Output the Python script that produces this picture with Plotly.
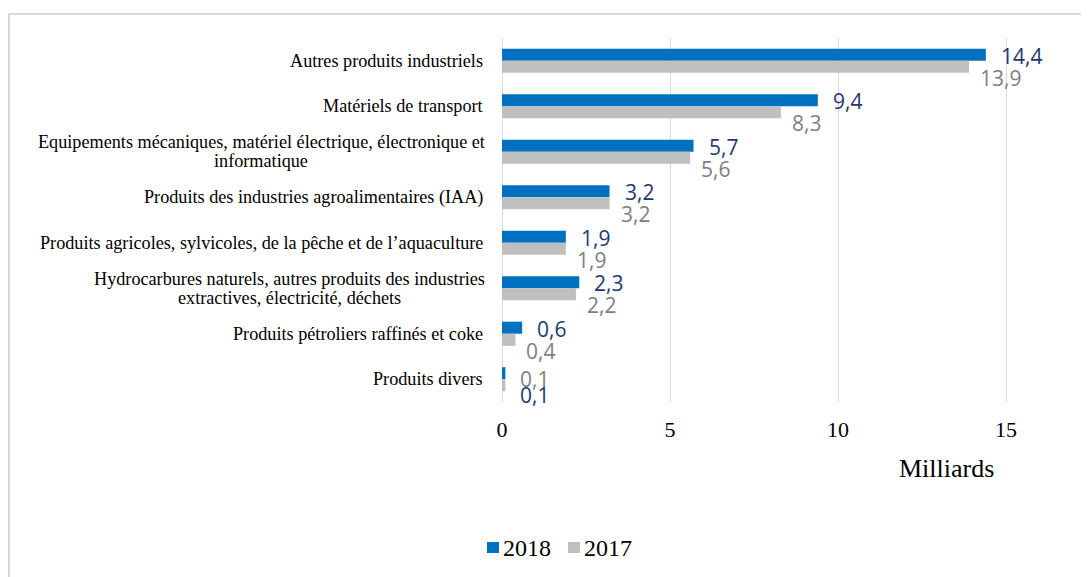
import plotly.graph_objects as go

categories = [
    "Autres produits industriels",
    "Matériels de transport",
    "Equipements mécaniques, matériel électrique, électronique et<br>informatique",
    "Produits des industries agroalimentaires (IAA)",
    "Produits agricoles, sylvicoles, de la pêche et de l’aquaculture",
    "Hydrocarbures naturels, autres produits des industries<br>extractives, électricité, déchets",
    "Produits pétroliers raffinés et coke",
    "Produits divers",
]
values_2018 = [14.4, 9.4, 5.7, 3.2, 1.9, 2.3, 0.6, 0.1]
values_2017 = [13.9, 8.3, 5.6, 3.2, 1.9, 2.2, 0.4, 0.1]
series_names = ["2018", "2017"]
x_ticks = [0, 5, 10, 15]

BLUE = "#0070C0"
GRAY = "#BFBFBF"
BLUE_TXT = "#1F3872"
GRAY_TXT = "#7F7F7F"
SERIF = "Liberation Serif, Times New Roman, serif"
SANS = "Open Sans, Liberation Sans, sans-serif"

# the page body adds an 8px offset; figure coordinates = reference pixels - 8
OFF = 8
W, H = 1081, 569
ML, MR, MT, MB = 502 - OFF, 0, 38 - OFF, 569 - (402 - OFF)
pw = W - ML - MR
ph = H - MT - MB
PX_PER_UNIT = 504 / 15


def px_x(px):
    return (px - OFF - ML) / pw


def px_y(py):
    return (H - MB - (py - OFF)) / ph


# Times / Liberation Serif advance widths (per 1000 em) for label-width estimates
TW = {" ": 250, ",": 250, "'": 333, "’": 333, "(": 333, ")": 333, "E": 611, "I": 333, "A": 722,
      "H": 722, "M": 889, "P": 556, "a": 444, "b": 500, "c": 444, "d": 500, "e": 444, "é": 444,
      "è": 444, "ê": 444, "f": 333, "g": 500, "h": 500, "i": 278, "j": 278, "k": 500, "l": 278,
      "m": 778, "n": 500, "o": 500, "p": 500, "q": 500, "r": 333, "s": 389, "t": 278, "u": 500,
      "v": 500, "w": 722, "x": 500, "y": 500, "z": 444}


def text_w(s, size):
    return sum(TW.get(ch, 500) for ch in s) / 1000 * size


def fmt(v):
    return f"{v:.1f}".replace(".", ",")


colors = [BLUE, GRAY]
fig = go.Figure()
for name, vals, col in zip(series_names, [values_2018, values_2017], colors):
    fig.add_trace(go.Bar(y=categories, x=vals, orientation="h", name=name,
                         marker=dict(color=col, line=dict(width=0)), showlegend=False))

annotations = []
LAB_SIZE = 18.2
LAB_RIGHT = -17  # px from axis
LINE_GAP = 19
for c in categories:
    lines = c.split("<br>")
    if len(lines) == 1:
        annotations.append(dict(x=0, xref="paper", y=c, yref="y", text=c, showarrow=False,
                                xanchor="right", xshift=LAB_RIGHT,
                                font=dict(family=SERIF, size=LAB_SIZE, color="#000000")))
    else:
        w1 = text_w(lines[0], LAB_SIZE)
        center = LAB_RIGHT - w1 / 2
        n = len(lines)
        for i, ln in enumerate(lines):
            annotations.append(dict(x=0, xref="paper", y=c, yref="y", text=ln, showarrow=False,
                                    xanchor="center", xshift=center,
                                    yshift=((n - 1) / 2 - i) * LINE_GAP,
                                    font=dict(family=SERIF, size=LAB_SIZE, color="#000000")))

# data labels
for c, v18, v17 in zip(categories, values_2018, values_2017):
    small = max(v18, v17) < 0.3
    ys18, ys17 = (-16, 0) if small else (5, -17)
    annotations.append(dict(x=v18, y=c, xref="x", yref="y", text=fmt(v18), showarrow=False,
                            xanchor="left", xshift=13, yshift=ys18,
                            font=dict(family=SANS, size=21, color=BLUE_TXT)))
    annotations.append(dict(x=v17, y=c, xref="x", yref="y", text=fmt(v17), showarrow=False,
                            xanchor="left", xshift=9 if not small else 13, yshift=ys17,
                            font=dict(family=SANS, size=21, color=GRAY_TXT)))

# axis title
annotations.append(dict(x=px_x(946), y=px_y(468), xref="paper", yref="paper", text="Milliards",
                        showarrow=False, xanchor="center", yanchor="middle",
                        font=dict(family=SERIF, size=26, color="#000000")))

shapes = [dict(type="rect", xref="paper", yref="paper",
               x0=px_x(9), x1=px_x(1110), y0=px_y(620), y1=px_y(14),
               line=dict(color="#D9D9D9", width=2), fillcolor="rgba(0,0,0,0)", layer="below")]

# legend (drawn manually to match the tight symbol/text spacing)
legend_items = [(series_names[0], BLUE, 487), (series_names[1], GRAY, 568)]
for name, col, sx in legend_items:
    shapes.append(dict(type="rect", xref="paper", yref="paper",
                       x0=px_x(sx), x1=px_x(sx + 12), y0=px_y(553), y1=px_y(542),
                       line=dict(width=0), fillcolor=col))
    annotations.append(dict(x=px_x(sx + 14), y=px_y(548), xref="paper", yref="paper", text=name,
                            showarrow=False, xanchor="left", yanchor="middle",
                            font=dict(family=SERIF, size=24, color="#000000")))

fig.update_layout(
    width=W, height=H,
    margin=dict(l=ML, r=MR, t=MT, b=MB),
    paper_bgcolor="white", plot_bgcolor="white",
    barmode="group", bargap=0.47, bargroupgap=0,
    showlegend=False,
    xaxis=dict(range=[0, pw / PX_PER_UNIT], tickvals=x_ticks,
               ticktext=[str(t) for t in x_ticks],
               showgrid=True, gridcolor="#D9D9D9", gridwidth=1.3,
               zeroline=True, zerolinecolor="#D9D9D9", zerolinewidth=1.3,
               showline=False, ticks="", ticklabelstandoff=12,
               tickfont=dict(family=SERIF, size=22, color="#000000")),
    yaxis=dict(range=[len(categories) - 0.5, -0.5], showticklabels=False, showgrid=False,
               zeroline=False, showline=False, ticks=""),
    annotations=annotations,
    shapes=shapes,
)

fig.write_html("out.html")
